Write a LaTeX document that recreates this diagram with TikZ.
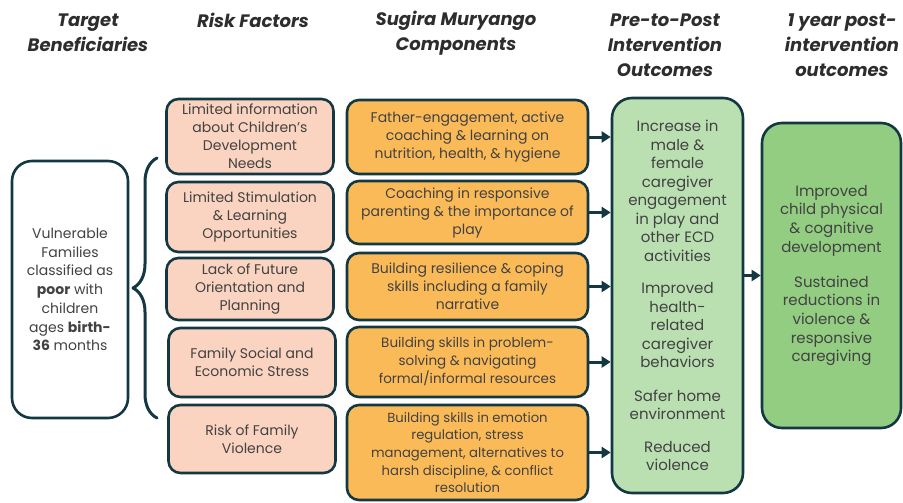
\documentclass[tikz,border=0pt]{standalone}
\usepackage{fontspec}
\setmainfont{Poppins}
\usepackage{tikz}
\usetikzlibrary{arrows.meta}
\usetikzlibrary{decorations.pathreplacing}
\definecolor{edgeteal}{RGB}{20,56,66}
\definecolor{bodygray}{RGB}{66,66,66}
\definecolor{headgray}{RGB}{45,45,45}
\definecolor{peach}{RGB}{250,212,192}
\definecolor{amber}{RGB}{251,186,88}
\definecolor{palegreen}{RGB}{186,224,178}
\definecolor{leafgreen}{RGB}{146,205,130}

\begin{document}
\begin{tikzpicture}[x=1pt,y=-1pt,line cap=round,line join=round,
    head/.style={align=center,text=headgray,font=\fontsize{18}{25}\selectfont\bfseries\itshape},
    box/.style={draw=edgeteal,line width=2.6pt,rounded corners=12pt,align=center,inner sep=0pt,
      text=bodygray,font=\fontsize{14}{18}\selectfont},
    riskbox/.style={box,fill=peach,minimum width=167pt},
    compbox/.style={box,fill=amber,minimum width=241pt},
    arr/.style={-{Triangle[length=9pt,width=11pt]},line width=3pt,draw=edgeteal}]
\useasboundingbox (0,0) rectangle (903,503);
% headings
\node[head] (hTarget) at (88,33) {Target\\Beneficiaries};
\node[head] (hRisk) at (253,20) {Risk Factors};
\node[head] (hComp) at (456,33) {Sugira Muryango\\Components};
\node[head] (hPre) at (665,45) {Pre-to-Post\\Intervention\\Outcomes};
\node[head] (hYear) at (842,45) {1 year post-\\intervention\\outcomes};
% target beneficiaries
\node[box,rounded corners=20pt,minimum width=116pt,minimum height=257pt,fill=white,font=\fontsize{14}{18.7}\selectfont] (target) at (70,289.5)
  {Vulnerable\\Families\\classified as\\\textbf{poor} with\\children\\ages \textbf{birth-}\\\textbf{36} months};
\draw[edgeteal,line width=3pt,decorate,decoration={brace,amplitude=24pt}] (157,418) -- (157,158);
% risk factors
\node[riskbox,minimum height=75pt] (risk1) at (250,136.5) {Limited information\\about Children's\\Development\\Needs};
\node[riskbox,minimum height=70pt] (risk2) at (250,217) {Limited Stimulation\\\& Learning\\Opportunities};
\node[riskbox,minimum height=62pt] (risk3) at (250,289) {Lack of Future\\Orientation and\\Planning};
\node[riskbox,minimum height=69pt] (risk4) at (252,362.5) {Family Social and\\Economic Stress};
\node[riskbox,minimum height=68pt] (risk5) at (252,439) {Risk of Family\\Violence};
% components
\node[compbox,minimum height=74pt] (comp1) at (467.5,137) {Father-engagement, active\\coaching \& learning on\\nutrition, health, \& hygiene};
\node[compbox,minimum height=63pt] (comp2) at (467.5,212.5) {Coaching in responsive\\parenting \& the importance of\\play};
\node[compbox,minimum height=67pt] (comp3) at (467.5,286.5) {Building resilience \& coping\\skills including a family\\narrative};
\node[compbox,minimum height=70pt,font=\fontsize{13.5}{18}\selectfont] (comp4) at (467.5,362) {Building skills in problem-\\solving \& navigating\\formal/informal resources};
\node[compbox,minimum height=95pt,font=\fontsize{13.2}{17.7}\selectfont] (comp5) at (467.5,452.5) {Building skills in emotion\\regulation, stress\\management, alternatives to\\harsh discipline, \& conflict\\resolution};
% outcomes
\node[box,rounded corners=20pt,fill=palegreen,minimum width=131pt,minimum height=395pt,font=\fontsize{15}{18.5}\selectfont] (prepost) at (677.5,295.5)
  {Increase in\\male \&\\female\\caregiver\\engagement\\in play and\\other ECD\\activities\\[14pt]Improved\\health-\\related\\caregiver\\behaviors\\[15pt]Safer home\\environment\\[14pt]Reduced\\violence};
\node[box,rounded corners=20pt,fill=leafgreen,minimum width=139pt,minimum height=305pt,font=\fontsize{15}{18.7}\selectfont] (yearout) at (831.5,275.5)
  {Improved\\child physical\\\& cognitive\\development\\[16pt]Sustained\\reductions in\\violence \&\\responsive\\caregiving};
% arrows
\foreach \c in {comp1,comp2,comp3,comp4,comp5}
  \draw[arr] (\c.east) -- (\c.east -| prepost.west);
\draw[arr] (prepost.east |- yearout.west) -- (yearout.west);
\end{tikzpicture}
\end{document}
